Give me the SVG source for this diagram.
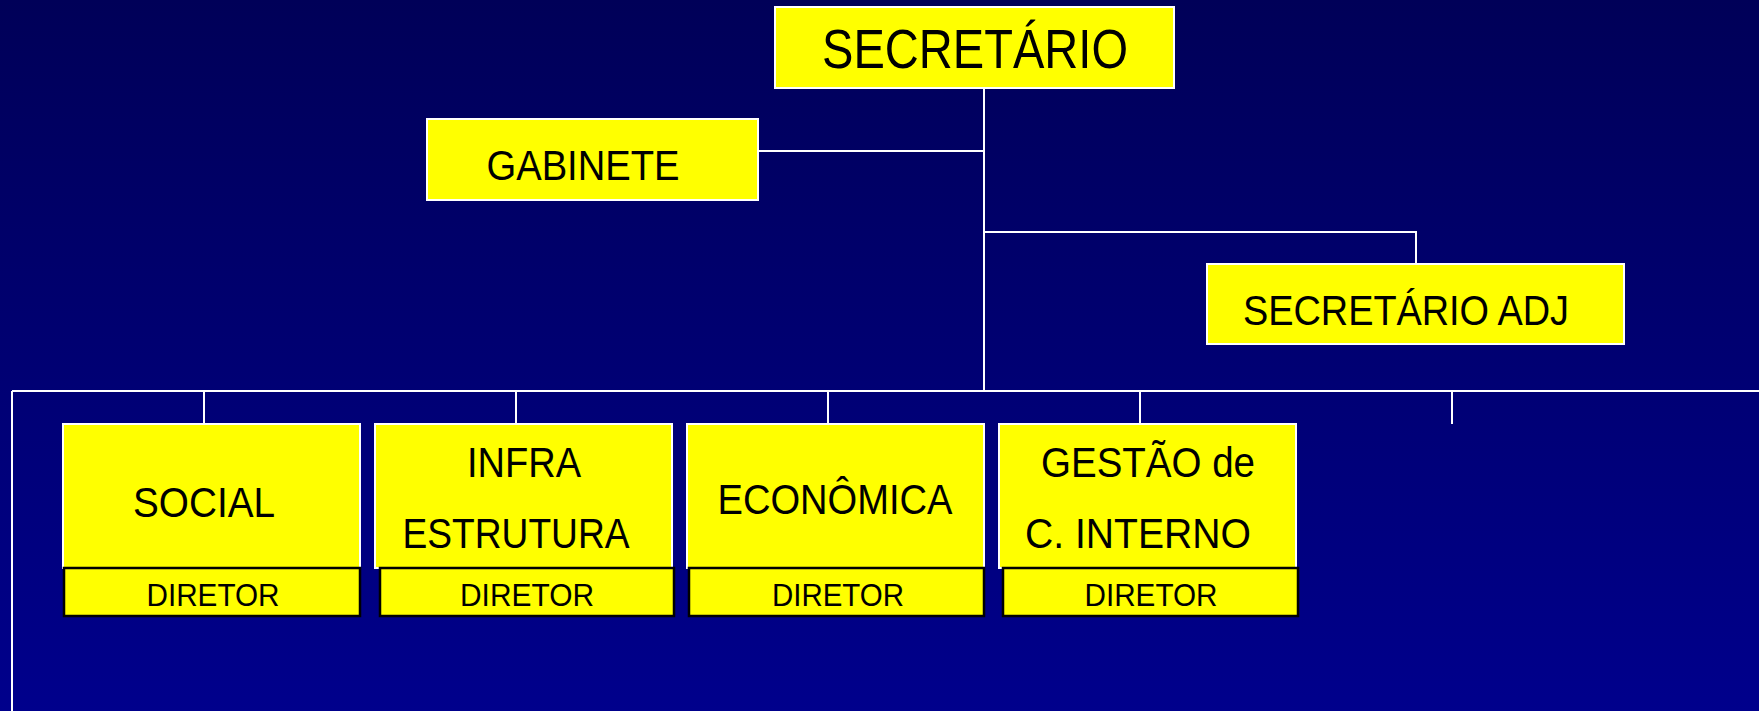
<svg xmlns="http://www.w3.org/2000/svg" width="1759" height="711" viewBox="0 0 1759 711">
<defs>
<linearGradient id="bg" x1="0" y1="0" x2="0" y2="1">
<stop offset="0" stop-color="#000058"/>
<stop offset="1" stop-color="#00008C"/>
</linearGradient>
<style>
.box{fill:#FFFF00;stroke:#FFFFFF;stroke-width:2}
.dir{fill:#FFFF00;stroke:#000000;stroke-width:2.5}
.t{font-family:"Liberation Sans",Arial,sans-serif;fill:#000000;text-anchor:middle}
.c{stroke:#FFFFFF;stroke-width:2;fill:none}
</style>
</defs>
<rect x="0" y="0" width="1759" height="711" fill="url(#bg)"/>
<g id="connectors">
<path class="c" d="M984 88 V391"/>
<path class="c" d="M758 151 H984"/>
<path class="c" d="M984 232 H1416 V264"/>
<path class="c" d="M12 391 H1759"/>
<path class="c" d="M12 391 V711"/>
<path class="c" d="M204 391 V424"/>
<path class="c" d="M516 391 V424"/>
<path class="c" d="M828 391 V424"/>
<path class="c" d="M1140 391 V424"/>
<path class="c" d="M1452 391 V424"/>
</g>
<g id="secretario">
<rect class="box" x="775" y="7" width="399" height="81"/>
<text class="t" x="975" y="68" font-size="55" textLength="306" lengthAdjust="spacingAndGlyphs">SECRETÁRIO</text>
</g>
<g id="gabinete">
<rect class="box" x="427" y="119" width="331" height="81"/>
<text class="t" x="583" y="180" font-size="42" textLength="193" lengthAdjust="spacingAndGlyphs">GABINETE</text>
</g>
<g id="secretario-adj">
<rect class="box" x="1207" y="264" width="417" height="80"/>
<text class="t" x="1406" y="325" font-size="42" textLength="326" lengthAdjust="spacingAndGlyphs">SECRETÁRIO ADJ</text>
</g>
<g id="social">
<rect class="box" x="63" y="424" width="297" height="144"/>
<text class="t" x="204" y="517" font-size="43" textLength="142" lengthAdjust="spacingAndGlyphs">SOCIAL</text>
</g>
<g id="social-diretor">
<rect class="dir" x="64" y="568" width="296" height="48"/>
<text class="t" x="213" y="606" font-size="31" textLength="133" lengthAdjust="spacingAndGlyphs">DIRETOR</text>
</g>
<g id="infra">
<rect class="box" x="375" y="424" width="297" height="144"/>
<text class="t" x="524" y="477" font-size="43" textLength="114" lengthAdjust="spacingAndGlyphs">INFRA</text>
<text class="t" x="516" y="548" font-size="43" textLength="227" lengthAdjust="spacingAndGlyphs">ESTRUTURA</text>
</g>
<g id="infra-diretor">
<rect class="dir" x="380" y="568" width="294" height="48"/>
<text class="t" x="527" y="606" font-size="31" textLength="134" lengthAdjust="spacingAndGlyphs">DIRETOR</text>
</g>
<g id="economica">
<rect class="box" x="687" y="424" width="297" height="144"/>
<text class="t" x="835" y="514" font-size="43" textLength="235" lengthAdjust="spacingAndGlyphs">ECONÔMICA</text>
</g>
<g id="economica-diretor">
<rect class="dir" x="689" y="568" width="295" height="48"/>
<text class="t" x="838" y="606" font-size="31" textLength="132" lengthAdjust="spacingAndGlyphs">DIRETOR</text>
</g>
<g id="gestao">
<rect class="box" x="999" y="424" width="297" height="144"/>
<text class="t" x="1148" y="477" font-size="43" textLength="214" lengthAdjust="spacingAndGlyphs">GESTÃO de</text>
<text class="t" x="1138" y="548" font-size="43" textLength="226" lengthAdjust="spacingAndGlyphs">C. INTERNO</text>
</g>
<g id="gestao-diretor">
<rect class="dir" x="1003" y="568" width="295" height="48"/>
<text class="t" x="1151" y="606" font-size="31" textLength="133" lengthAdjust="spacingAndGlyphs">DIRETOR</text>
</g>
</svg>
